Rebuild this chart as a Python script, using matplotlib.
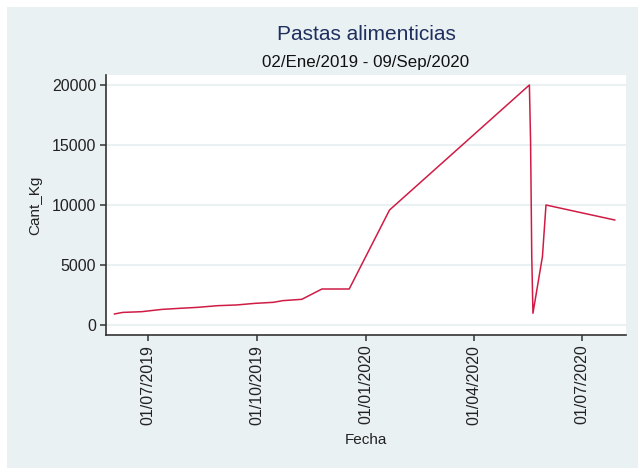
import matplotlib
matplotlib.use("Agg")
import matplotlib.pyplot as plt
import matplotlib.dates as mdates
import numpy as np
from datetime import datetime

plt.rcParams['font.family'] = ['Liberation Sans', 'DejaVu Sans']

# values
fechas = ["2019-06-03", "2019-06-10", "2019-06-26", "2019-07-13", "2019-07-28",
          "2019-08-12", "2019-08-29", "2019-09-14", "2019-09-29", "2019-10-15",
          "2019-10-23", "2019-11-08", "2019-11-25", "2019-12-18", "2020-01-21",
          "2020-05-18", "2020-05-19", "2020-05-20", "2020-05-21", "2020-05-29",
          "2020-06-01", "2020-07-29"]
cant_kg = [920, 1050, 1110, 1300, 1390,
           1470, 1610, 1670, 1800, 1890,
           2030, 2140, 3000, 3000, 9580,
           20000, 15300, 5700, 980, 5700,
           10000, 8750]
tick_fechas = ["2019-07-01", "2019-10-01", "2020-01-01", "2020-04-01", "2020-07-01"]
y_ticks = [0, 5000, 10000, 15000, 20000]

x = [datetime.strptime(f, "%Y-%m-%d") for f in fechas]
ticks = [datetime.strptime(f, "%Y-%m-%d") for f in tick_fechas]

bg = '#EAF1F3'
fig = plt.figure(figsize=(6.38, 4.68), dpi=100, facecolor='white')
# light region (screenshot leaves a thin white strip top and left)
fig.patches.append(plt.Rectangle((7/638, 0), 1, 1 - 7/468, transform=fig.transFigure,
                                 facecolor=bg, edgecolor='none', zorder=-1))

ax = fig.add_axes([106/638, 1 - 335/468, 520/638, 260/468])
ax.set_facecolor('white')
ax.plot(x, cant_kg, color='#D01C45', lw=1.1, zorder=3)

ax.set_xlim(datetime(2019, 5, 26, 20), datetime(2020, 8, 7, 12))
ax.set_ylim(-833, 20833)
ax.set_yticks(y_ticks)
ax.set_yticklabels([str(v) for v in y_ticks], fontsize=11.5, color='#222222')
ax.set_xticks(ticks)
ax.xaxis.set_major_formatter(mdates.DateFormatter('%d/%m/%Y'))
plt.setp(ax.get_xticklabels(), rotation=90, fontsize=11.5, color='#222222')

ax.grid(axis='y', color=bg, lw=1.5, zorder=0)
ax.grid(axis='x', visible=False)
for s in ['top', 'right']:
    ax.spines[s].set_visible(False)
for s in ['left', 'bottom']:
    ax.spines[s].set_color('#333333')
    ax.spines[s].set_linewidth(1.2)
ax.tick_params(axis='both', direction='out', length=4, width=1.1, color='#333333', pad=3)

cx = (106 + 626) / 2 / 638
fig.text(cx, 1 - 35/468, 'Pastas alimenticias', ha='center', va='center',
         fontsize=15, color='#1E2F5E')
fig.text(cx, 1 - 63/468, '02/Ene/2019 - 09/Sep/2020', ha='center', va='center',
         fontsize=12.2, color='#111111')
fig.text(35/638, 1 - 205/468, 'Cant_Kg', rotation=90, ha='center', va='center',
         fontsize=11, color='#222222')
fig.text(cx, 1 - 440/468, 'Fecha', ha='center', va='center',
         fontsize=11, color='#222222')

fig.savefig('out.png', dpi=100, facecolor=fig.get_facecolor())
